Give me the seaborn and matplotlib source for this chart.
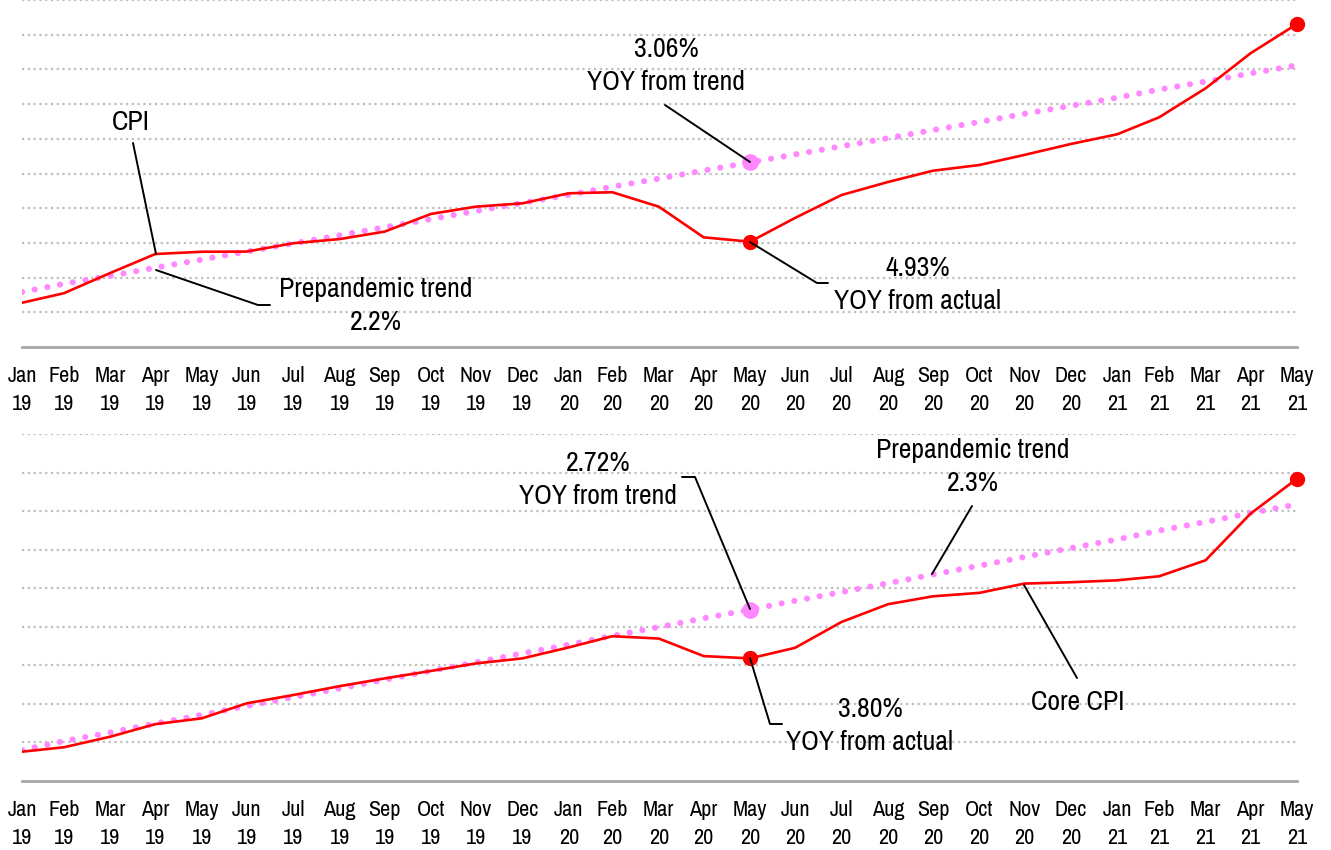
import pandas as pd
import numpy as np
import matplotlib
matplotlib.use("Agg")
import matplotlib.pyplot as plt
import matplotlib.dates as mdates
import seaborn as sns

months = pd.date_range("2019-01-31", "2021-05-31", freq="ME")
tick_labels = [d.strftime("%b\n%y") for d in months]

# headline CPI (index level)
cpi = [252.55, 253.10, 254.27, 255.36, 255.49, 255.50, 255.98, 256.22, 256.65, 257.67,
       258.09, 258.28, 258.86, 258.92, 258.09, 256.32, 256.07, 257.44, 258.76, 259.51,
       260.16, 260.49, 261.07, 261.70, 262.26, 263.24, 264.91, 266.93, 268.62]
cpi_trend = [253.17, 253.64, 254.10, 254.57, 255.04, 255.50, 255.97, 256.44, 256.90, 257.37,
             257.84, 258.30, 258.77, 259.24, 259.70, 260.17, 260.64, 261.10, 261.57, 262.04,
             262.50, 262.97, 263.44, 263.90, 264.37, 264.84, 265.30, 265.77, 266.24]

# core CPI
core = [259.52, 259.75, 260.30, 260.95, 261.25, 262.03, 262.46, 262.92, 263.32, 263.71,
        264.10, 264.36, 264.93, 265.51, 265.39, 264.48, 264.36, 264.91, 266.25, 267.17,
        267.58, 267.76, 268.24, 268.31, 268.41, 268.62, 269.45, 271.87, 273.68]
core_trend = [259.61, 260.07, 260.52, 260.98, 261.43, 261.89, 262.34, 262.80, 263.25, 263.71,
              264.16, 264.62, 265.07, 265.53, 265.98, 266.44, 266.89, 267.35, 267.80, 268.26,
              268.71, 269.17, 269.62, 270.08, 270.53, 270.99, 271.44, 271.90, 272.35]

sns.set_style("white")
plt.rcParams["font.family"] = ["Archivo Narrow", "Liberation Sans Narrow", "DejaVu Sans"]
plt.rcParams["text.color"] = "black"
plt.rcParams["xtick.labelcolor"] = "black"

RED = "#ff0000"
PINK = "#ff88ff"
GRID = "#bfbfbf"
AXIS = "#a6a6a6"

fig = plt.figure(figsize=(13.31, 8.5), dpi=100)
ax1 = fig.add_axes([22 / 1331, 1 - 347 / 850, 1275 / 1331, 347 / 850])
ax2 = fig.add_axes([22 / 1331, 1 - 781 / 850, 1275 / 1331, 347 / 850])

df1 = pd.DataFrame({"date": months, "cpi": cpi, "trend": cpi_trend})
df2 = pd.DataFrame({"date": months, "cpi": core, "trend": core_trend})


def draw(ax, df, lo, hi):
    for y in np.arange(lo + 2, hi + 0.1, 2):
        ax.axhline(y, color=GRID, lw=1.6, ls=(0, (1, 1.6)), zorder=0)
    sns.lineplot(data=df, x="date", y="trend", ax=ax, color=PINK, lw=4.4,
                 ls=(0, (0.01, 2.1)), dash_capstyle="round", zorder=2)
    sns.lineplot(data=df, x="date", y="cpi", ax=ax, color=RED, lw=1.9, zorder=3)
    ax.set_xlim(months[0], months[-1])
    ax.set_ylim(lo, hi)
    ax.set_xticks(months)
    ax.set_xticklabels(tick_labels, fontsize=16, linespacing=1.45)
    ax.set_yticks([])
    ax.set_xlabel("")
    ax.set_ylabel("")
    for s in ["top", "right", "left"]:
        ax.spines[s].set_visible(False)
    ax.spines["bottom"].set_color(AXIS)
    ax.spines["bottom"].set_linewidth(2)
    ax.tick_params(axis="x", direction="out", length=7, width=2, color=AXIS, pad=7)
    # highlighted points
    ax.plot(df["date"].iloc[16], df["trend"].iloc[16], "o", color=PINK, ms=11, zorder=4)
    ax.plot(df["date"].iloc[16], df["cpi"].iloc[16], "o", color=RED, ms=10, zorder=4)
    ax.plot(df["date"].iloc[-1], df["cpi"].iloc[-1], "o", color=RED, ms=10, zorder=4,
            clip_on=False)


draw(ax1, df1, 250, 270)
draw(ax2, df2, 258, 276)

FS = 20
line_kw = dict(color="black", lw=1.4, zorder=5)


def px(fx, fy, ax):
    # figure pixel -> data coords of ax
    inv = ax.transData.inverted()
    return inv.transform((fx, 850 - fy))


def seg(ax, pts):
    xy = [px(x, y, ax) for x, y in pts]
    ax.plot([mdates.num2date(p[0]) for p in xy], [p[1] for p in xy], clip_on=False, **line_kw)


def label(ax, s, x, y):
    ax.annotate(s, xy=(x / 1331, 1 - y / 850), xycoords="figure fraction",
                ha="center", va="center", fontsize=FS, linespacing=1.4)


fig.canvas.draw()

# top panel annotations
seg(ax1, [(133, 143), (156, 254)])
label(ax1, "CPI", 131, 122)
seg(ax1, [(156, 270), (258, 305), (270, 305)])
label(ax1, "Prepandemic trend\n2.2%", 376, 306)
seg(ax1, [(665, 105), (750, 162)])
label(ax1, "3.06%\nYOY from trend", 666, 66)
seg(ax1, [(750, 242), (817, 283), (828, 283)])
label(ax1, "4.93%\nYOY from actual", 918, 285)

# bottom panel annotations
seg(ax2, [(682, 477), (695, 477), (750, 609)])
label(ax2, "2.72%\nYOY from trend", 598, 480)
seg(ax2, [(972, 506), (932, 574)])
label(ax2, "Prepandemic trend\n2.3%", 973, 467)
seg(ax2, [(750, 658), (770, 724), (782, 724)])
label(ax2, "3.80%\nYOY from actual", 870, 726)
seg(ax2, [(1024, 585), (1077, 678)])
label(ax2, "Core CPI", 1078, 703)

fig.savefig("out.png", dpi=100)
